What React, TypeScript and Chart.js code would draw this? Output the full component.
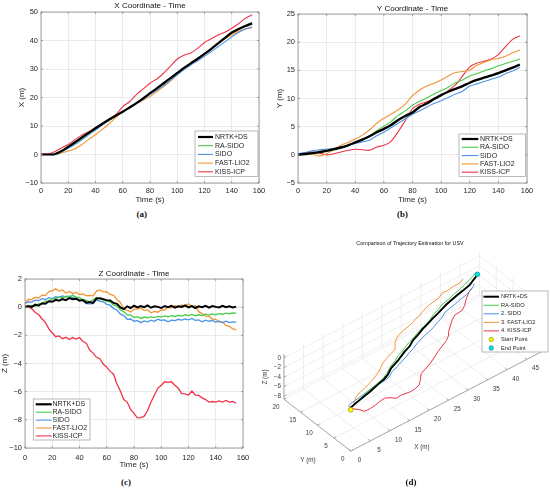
import React, { useRef, useEffect } from "react";
import Chart from "chart.js/auto";

const FONT = "'Liberation Sans', Arial, Helvetica, sans-serif";
const INK = "#262626";
const GRID = "#e2e2e2";
const FRAME = "#8a8a8a";

Chart.defaults.font.family = FONT;

// methods, in legend order
const methods = ["NRTK+DS", "RA-SIDO", "SIDO", "FAST-LIO2", "KISS-ICP"];
const methods3d = ["NRTK+DS", "RA-SIDO", "2. SIDO", "3. FAST-LIO2", "4. KISS-ICP"];
const colors = ["#000000", "#46cc46", "#4b93e6", "#f29534", "#ee3449"];

// time (s) for the X and Y coordinates
const timeXY = [0, 5, 10, 15, 20, 25, 30, 35, 40, 45, 50, 55, 60, 65, 70, 75, 80, 85, 90, 95, 100, 105, 110, 115, 120, 125, 130, 135, 140, 145, 150, 155];

// X coordinate (m)
const xNrtk = [0, 0, 0.1, 1.2, 2.7, 4.3, 6.0, 7.6, 9.2, 10.8, 12.3, 13.7, 15.0, 16.5, 18.0, 19.7, 21.5, 23.2, 25.0, 26.8, 28.6, 30.4, 32.0, 33.6, 35.3, 37.1, 39.0, 40.9, 42.8, 44.0, 45.1, 46.0];
const xRaSido = [0, 0, 0, 1.0, 2.5, 4.0, 5.6, 7.3, 9.0, 10.6, 12.1, 13.6, 15.0, 16.5, 18.0, 19.7, 21.5, 23.2, 25.0, 26.8, 28.7, 30.5, 32.1, 33.7, 35.4, 37.2, 39.0, 40.9, 42.6, 44.0, 45.3, 46.3];
const xSido = [0, 0, 0, 0.9, 2.2, 3.6, 5.2, 6.9, 8.6, 10.3, 12.0, 13.5, 15.0, 16.5, 17.9, 19.4, 21.0, 22.6, 24.2, 26.0, 28.0, 29.8, 31.4, 32.9, 34.5, 36.1, 37.8, 39.5, 41.3, 42.8, 44.0, 44.8];
const xFast = [0, 0, 0, 0.5, 1.2, 2.0, 3.5, 5.3, 7.0, 8.8, 10.8, 13.0, 15.0, 16.4, 17.8, 19.0, 20.3, 22.0, 23.8, 25.8, 28.0, 30.3, 32.3, 33.8, 35.4, 37.0, 38.8, 40.6, 42.0, 43.2, 44.0, 44.5];
const xKiss = [0.2, 0.2, 1.0, 2.3, 3.5, 5.2, 6.8, 8.0, 9.5, 10.8, 12.3, 14.0, 16.8, 18.5, 21.0, 23.0, 25.0, 26.5, 28.5, 31.0, 33.5, 34.8, 35.6, 37.3, 39.3, 40.6, 41.9, 42.9, 44.3, 45.9, 47.8, 49.0];

// Y coordinate (m)
const yNrtk = [0, 0.15, 0.3, 0.5, 0.7, 1.0, 1.3, 1.7, 2.2, 2.7, 3.3, 4.0, 4.6, 5.3, 6.2, 6.9, 7.5, 8.5, 9.1, 9.9, 10.6, 11.2, 11.7, 12.2, 12.8, 13.3, 13.7, 14.1, 14.5, 15.0, 15.5, 16.0];
const yRaSido = [0, 0.1, 0.2, 0.4, 0.6, 0.9, 1.3, 1.7, 2.2, 2.8, 3.4, 4.3, 5.1, 5.9, 7.0, 7.8, 8.8, 9.5, 10.1, 10.8, 11.4, 12.0, 12.8, 13.3, 14.0, 14.4, 14.9, 15.3, 15.8, 16.2, 16.6, 17.0];
const ySido = [0.2, 0.4, 0.7, 0.9, 1.0, 1.1, 1.4, 1.7, 2.0, 2.3, 2.6, 3.4, 4.0, 4.8, 5.6, 6.4, 7.2, 7.8, 8.5, 9.1, 9.6, 10.2, 10.8, 11.3, 12.2, 12.6, 13.0, 13.4, 13.8, 14.4, 14.9, 15.5];
const yFast = [0, 0.1, 0.1, -0.2, 0.2, 0.9, 1.7, 2.2, 2.8, 3.5, 4.4, 5.6, 6.5, 7.2, 8.0, 9.0, 10.5, 11.5, 12.2, 12.7, 13.3, 14.0, 14.6, 14.8, 15.0, 15.9, 16.4, 16.9, 17.1, 17.5, 18.1, 18.6];
const yKiss = [0, 0.4, 0.5, 0.3, 0.0, 0.2, 0.5, 0.8, 1.0, 0.9, 0.8, 1.4, 1.7, 2.4, 4.1, 6.1, 8.2, 9.0, 9.4, 10.0, 10.6, 11.4, 12.4, 14.0, 15.6, 16.3, 16.6, 17.0, 17.8, 19.2, 20.5, 21.1];

// time (s) for the Z coordinate
const timeZ = [
  0, 2.5, 5, 7.5, 10, 12.5, 15, 17.5, 20, 22.5,
  25, 27.5, 30, 32.5, 35, 37.5, 40, 42.5, 45, 47.5,
  50, 52.5, 55, 57.5, 60, 62.5, 65, 67.5, 70, 72.5,
  75, 77.5, 80, 82.5, 85, 87.5, 90, 92.5, 95, 97.5,
  100, 102.5, 105, 107.5, 110, 112.5, 115, 117.5, 120, 122.5,
  125, 127.5, 130, 132.5, 135, 137.5, 140, 142.5, 145, 147.5,
  150, 152.5, 155,
];

// Z coordinate (m)
const zNrtk = [
  0.00, 0.08, 0.02, 0.18, 0.10, 0.28, 0.24, 0.42, 0.38, 0.52,
  0.46, 0.58, 0.50, 0.64, 0.56, 0.60, 0.46, 0.50, 0.32, 0.36,
  0.30, 0.62, 0.64, 0.56, 0.50, 0.48, 0.30, 0.24, -0.02, -0.14,
  0.06, -0.06, 0.10, -0.02, 0.08, 0.00, 0.12, -0.04, 0.06, 0.02,
  -0.06, 0.08, 0.00, 0.10, -0.04, 0.06, 0.02, 0.12, -0.02, 0.08,
  -0.06, 0.06, 0.00, 0.10, -0.04, 0.08, 0.02, -0.02, 0.10, 0.00,
  0.06, -0.02, 0.04,
];
const zRaSido = [
  0.02, 0.00, 0.12, 0.06, 0.24, 0.22, 0.44, 0.40, 0.62, 0.58,
  0.74, 0.66, 0.78, 0.74, 0.84, 0.72, 0.68, 0.52, 0.48, 0.38,
  0.52, 0.68, 0.58, 0.54, 0.42, 0.38, 0.16, 0.08, -0.18, -0.32,
  -0.54, -0.56, -0.74, -0.68, -0.80, -0.70, -0.76, -0.68, -0.74, -0.66,
  -0.70, -0.62, -0.68, -0.60, -0.66, -0.58, -0.64, -0.54, -0.60, -0.52,
  -0.62, -0.54, -0.60, -0.50, -0.56, -0.48, -0.54, -0.46, -0.50, -0.42,
  -0.48, -0.40, -0.44,
];
const zSido = [
  0.26, 0.38, 0.36, 0.50, 0.46, 0.60, 0.54, 0.68, 0.60, 0.74,
  0.70, 0.80, 0.72, 0.78, 0.68, 0.66, 0.50, 0.48, 0.26, 0.24,
  0.26, 0.52, 0.42, 0.38, 0.20, 0.14, -0.10, -0.20, -0.50, -0.60,
  -0.86, -0.84, -1.00, -0.96, -1.10, -0.98, -1.04, -0.92, -1.00, -0.86,
  -0.94, -0.90, -1.04, -0.92, -0.96, -0.86, -0.92, -0.84, -0.90, -0.80,
  -0.94, -0.90, -1.04, -0.92, -1.00, -0.94, -1.06, -1.00, -1.10, -1.00,
  -1.10, -1.04, -1.08,
];
const zFast = [
  0.28, 0.56, 0.54, 0.70, 0.64, 0.86, 0.84, 1.10, 1.16, 1.30,
  1.14, 1.22, 1.00, 1.12, 0.96, 1.06, 0.90, 0.94, 0.80, 0.84,
  0.80, 1.14, 1.22, 1.08, 1.10, 0.90, 0.84, 0.54, 0.34, -0.14,
  -0.22, -0.34, -0.14, -0.14, -0.04, -0.24, -0.20, -0.40, -0.30, -0.36,
  -0.20, -0.20, 0.00, -0.06, 0.10, 0.00, 0.16, 0.08, 0.24, 0.06,
  0.10, -0.32, -0.46, -0.64, -0.66, -0.84, -0.86, -1.04, -1.06, -1.30,
  -1.36, -1.54, -1.60,
];
const zKiss = [
  0.10, 0.02, -0.12, -0.38, -0.52, -0.84, -1.08, -1.54, -1.82, -2.10,
  -2.04, -2.24, -2.14, -2.30, -2.16, -2.26, -2.16, -2.44, -2.56, -3.04,
  -3.26, -3.56, -3.66, -4.06, -4.26, -4.56, -4.76, -5.46, -5.96, -6.56,
  -6.74, -7.26, -7.54, -7.86, -7.84, -7.74, -7.34, -6.74, -6.24, -5.76,
  -5.54, -5.30, -5.34, -5.30, -5.54, -5.76, -6.14, -6.16, -6.24, -5.96,
  -6.24, -6.26, -6.44, -6.56, -6.74, -6.70, -6.74, -6.66, -6.74, -6.62,
  -6.74, -6.70, -6.82,
];

const xSeries = [xNrtk, xRaSido, xSido, xFast, xKiss];
const ySeries = [yNrtk, yRaSido, ySido, yFast, yKiss];
const zSeries = [zNrtk, zRaSido, zSido, zFast, zKiss];

// tick labels of the 3D view
const xTicks3d = [0, 5, 10, 15, 20, 25, 30, 35, 40, 45];
const yTicks3d = [0, 5, 10, 15, 20];
const zTicks3d = [-8, -6, -4, -2, 0];

const minus = (v: number) => (v < 0 ? "\u2212" + Math.abs(v) : String(v));

interface LegendItem {
  label: string;
  color: string;
  width?: number;
  edge?: string;
}

interface LegendBox {
  x: number;
  y: number;
  w: number;
  h: number;
  rowY: number;
  rowGap: number;
  lineX0: number;
  lineX1: number;
  textX: number;
  size: number;
  items: LegendItem[];
}

// legend drawn inside the axes, like MATLAB's
function makeLegend(o: LegendBox) {
  return {
    id: "boxLegend",
    afterDraw(chart: Chart) {
      const ctx = chart.ctx;
      ctx.save();
      ctx.fillStyle = "#ffffff";
      ctx.fillRect(o.x, o.y, o.w, o.h);
      ctx.strokeStyle = "#a8a8a8";
      ctx.lineWidth = 0.8;
      ctx.strokeRect(o.x, o.y, o.w, o.h);
      ctx.font = `${o.size}px ${FONT}`;
      ctx.textBaseline = "middle";
      ctx.textAlign = "left";
      o.items.forEach((it, i) => {
        const y = o.rowY + i * o.rowGap;
        if (it.edge) {
          ctx.beginPath();
          ctx.arc((o.lineX0 + o.lineX1) / 2, y, 2.2, 0, Math.PI * 2);
          ctx.fillStyle = it.color;
          ctx.fill();
          ctx.strokeStyle = it.edge;
          ctx.lineWidth = 0.6;
          ctx.stroke();
        } else {
          ctx.strokeStyle = it.color;
          ctx.lineWidth = it.width ?? 1;
          ctx.beginPath();
          ctx.moveTo(o.lineX0, y);
          ctx.lineTo(o.lineX1, y);
          ctx.stroke();
        }
        ctx.fillStyle = INK;
        ctx.fillText(it.label, o.textX, y);
      });
      ctx.restore();
    },
  };
}

// box round the axes with small inner ticks
const framePlugin = {
  id: "frame",
  afterDatasetsDraw(chart: Chart) {
    const { ctx, chartArea: a, scales } = chart;
    ctx.save();
    ctx.strokeStyle = FRAME;
    ctx.lineWidth = 0.8;
    ctx.beginPath();
    scales.x.ticks.forEach((t) => {
      const px = scales.x.getPixelForValue(t.value);
      ctx.moveTo(px, a.bottom);
      ctx.lineTo(px, a.bottom - 2);
      ctx.moveTo(px, a.top);
      ctx.lineTo(px, a.top + 2);
    });
    scales.y.ticks.forEach((t) => {
      const py = scales.y.getPixelForValue(t.value);
      ctx.moveTo(a.left, py);
      ctx.lineTo(a.left + 2, py);
      ctx.moveTo(a.right, py);
      ctx.lineTo(a.right - 2, py);
    });
    ctx.stroke();
    ctx.strokeRect(a.left, a.top, a.right - a.left, a.bottom - a.top);
    ctx.restore();
  },
};

interface LinePanelProps {
  left: number;
  top: number;
  width: number;
  height: number;
  padLeft: number;
  padRight: number;
  title: string;
  titleTop: number;
  titleBottom: number;
  yLabel: string;
  yMin: number;
  yMax: number;
  yStep: number;
  yAxisWidth: number;
  xAxisHeight: number;
  xTickPad: number;
  xTitlePad: number;
  times: number[];
  series: number[][];
  blackWidth: number;
  lineWidth: number;
  tension: number;
  legend: Omit<LegendBox, "items" | "size">;
}

const LinePanel: React.FC<LinePanelProps> = (p) => {
  const ref = useRef<HTMLCanvasElement>(null);

  useEffect(() => {
    if (!ref.current) return;
    const chart = new Chart(ref.current, {
      type: "scatter",
      data: {
        datasets: p.series.map((s, i) => ({
          label: methods[i],
          data: s.map((v, k) => ({ x: p.times[k], y: v })),
          showLine: true,
          borderColor: colors[i],
          backgroundColor: colors[i],
          borderWidth: i === 0 ? p.blackWidth : p.lineWidth,
          pointRadius: 0,
          tension: p.tension,
        })),
      },
      options: {
        responsive: false,
        animation: false,
        layout: { padding: { left: p.padLeft, right: p.padRight, top: 0, bottom: 0 } },
        plugins: {
          legend: { display: false },
          tooltip: { enabled: false },
          title: {
            display: true,
            fullSize: false,
            text: p.title,
            color: "#111",
            font: { size: 8, weight: "normal" },
            padding: { top: p.titleTop, bottom: p.titleBottom },
          },
        },
        scales: {
          x: {
            type: "linear",
            min: 0,
            max: 160,
            border: { display: false },
            grid: { color: GRID, lineWidth: 0.7, drawTicks: false },
            ticks: { stepSize: 20, padding: p.xTickPad, color: INK, font: { size: 7.5 }, autoSkip: false, maxRotation: 0 },
            title: { display: true, text: "Time (s)", color: INK, font: { size: 8 }, padding: { top: 0, bottom: p.xTitlePad } },
            afterFit: (s: any) => {
              s.height = p.xAxisHeight;
              s.paddingLeft = 0;
              s.paddingRight = 0;
            },
          },
          y: {
            type: "linear",
            min: p.yMin,
            max: p.yMax,
            border: { display: false },
            grid: { color: GRID, lineWidth: 0.7, drawTicks: false },
            ticks: { stepSize: p.yStep, padding: 3, color: INK, font: { size: 7.5 }, callback: (v: any) => minus(Number(v)) },
            title: { display: true, text: p.yLabel, color: INK, font: { size: 8 }, padding: { top: 0, bottom: 0 } },
            afterFit: (s: any) => {
              s.width = p.yAxisWidth;
              s.paddingTop = 0;
              s.paddingBottom = 0;
            },
          },
        },
      },
      plugins: [
        framePlugin,
        makeLegend({
          ...p.legend,
          size: 7,
          items: methods.map((m, i) => ({ label: m, color: colors[i], width: i === 0 ? 2.2 : 1.1 })),
        }),
      ],
    });
    return () => chart.destroy();
  }, []);

  return (
    <canvas
      ref={ref}
      width={p.width}
      height={p.height}
      style={{ position: "absolute", left: p.left, top: p.top, width: p.width, height: p.height }}
    />
  );
};

// oblique view used for the trajectory plot (canvas pixels)
const view = {
  ox: 89,
  oy: 217,
  ex: [4.04, -2.12],
  ey: [-3.45, -2.7],
  ez: 5.0,
  xMax: 50,
  yMax: 20,
  zMin: -8.6,
  zMax: 0.8,
};

const project = (X: number, Y: number, Z: number) => ({
  x: view.ox + X * view.ex[0] + Y * view.ey[0],
  y: view.oy + X * view.ex[1] + Y * view.ey[1] - (Z - view.zMin) * view.ez,
});

const W3 = 290;
const H3 = 234;

const axes3dPlugin = {
  id: "axes3d",
  beforeDatasetsDraw(chart: Chart) {
    const { ctx, scales } = chart;
    const px = (pt: { x: number; y: number }) => [scales.x.getPixelForValue(pt.x), scales.y.getPixelForValue(pt.y)];
    const seg = (a: { x: number; y: number }, b: { x: number; y: number }) => {
      const [x0, y0] = px(a);
      const [x1, y1] = px(b);
      ctx.moveTo(x0, y0);
      ctx.lineTo(x1, y1);
    };
    const { xMax, yMax, zMin, zMax } = view;
    ctx.save();
    // grid on floor and back walls
    ctx.strokeStyle = "#e6e6e6";
    ctx.lineWidth = 0.7;
    ctx.beginPath();
    xTicks3d.forEach((X) => {
      seg(project(X, 0, zMin), project(X, yMax, zMin));
      seg(project(X, yMax, zMin), project(X, yMax, zMax));
    });
    yTicks3d.forEach((Y) => {
      seg(project(0, Y, zMin), project(xMax, Y, zMin));
      seg(project(xMax, Y, zMin), project(xMax, Y, zMax));
    });
    zTicks3d.forEach((Z) => {
      seg(project(0, yMax, Z), project(xMax, yMax, Z));
      seg(project(xMax, 0, Z), project(xMax, yMax, Z));
    });
    ctx.stroke();
    // axis lines and ticks
    ctx.strokeStyle = "#959595";
    ctx.lineWidth = 0.8;
    ctx.beginPath();
    seg(project(0, 0, zMin), project(xMax, 0, zMin));
    seg(project(0, 0, zMin), project(0, yMax, zMin));
    seg(project(0, yMax, zMin), project(0, yMax, zMax));
    xTicks3d.forEach((X) => seg(project(X, 0, zMin), project(X, 0.6, zMin)));
    yTicks3d.forEach((Y) => seg(project(0, Y, zMin), project(0.6, Y, zMin)));
    zTicks3d.forEach((Z) => seg(project(0, yMax, Z), project(0.6, yMax, Z)));
    ctx.stroke();
    ctx.restore();
  },
  afterDatasetsDraw(chart: Chart) {
    const { ctx, scales } = chart;
    const px = (pt: { x: number; y: number }) => [scales.x.getPixelForValue(pt.x), scales.y.getPixelForValue(pt.y)];
    const { yMax, zMin } = view;
    ctx.save();
    ctx.fillStyle = "#3a3a3a";
    ctx.font = `6.3px ${FONT}`;
    ctx.textBaseline = "middle";
    ctx.textAlign = "center";
    xTicks3d.forEach((X) => {
      const [x, y] = px(project(X, 0, zMin));
      ctx.fillText(String(X), x + 8.6, y + 9.3);
    });
    yTicks3d.forEach((Y) => {
      const [x, y] = px(project(0, Y, zMin));
      ctx.fillText(String(Y), x - 8, y + 8);
    });
    ctx.textAlign = "right";
    zTicks3d.forEach((Z) => {
      const [x, y] = px(project(0, yMax, Z));
      ctx.fillText(minus(Z), x - 3, y);
    });
    ctx.textAlign = "center";
    ctx.fillText("X (m)", 162, 209);
    ctx.fillText("Y (m)", 48, 222);
    ctx.save();
    ctx.translate(5, 139);
    ctx.rotate(-Math.PI / 2);
    ctx.fillText("Z (m)", 0, 0);
    ctx.restore();
    ctx.fillStyle = "#111";
    ctx.font = `5.4px ${FONT}`;
    ctx.fillText("Comparison of Trajectory Estimation for USV", 150, 6);
    ctx.restore();
  },
};

const Trajectory3D: React.FC<{ left: number; top: number }> = ({ left, top }) => {
  const ref = useRef<HTMLCanvasElement>(null);

  useEffect(() => {
    if (!ref.current) return;
    const paths = xSeries.map((X, m) =>
      timeXY.map((_, k) => project(X[k], ySeries[m][k], zSeries[m][2 * k]))
    );
    const last = timeXY.length - 1;
    const start = project(xNrtk[0], yNrtk[0], zNrtk[0]);
    const end = project(xNrtk[last], yNrtk[last], zNrtk[2 * last]);

    const chart = new Chart(ref.current, {
      type: "scatter",
      data: {
        datasets: [
          ...paths.map((pts, i) => ({
            label: methods3d[i],
            data: pts,
            showLine: true,
            borderColor: colors[i],
            backgroundColor: colors[i],
            borderWidth: i === 0 ? 1.9 : 1.0,
            pointRadius: 0,
            tension: 0,
          })),
          {
            label: "Start Point",
            data: [start],
            pointRadius: 2.4,
            backgroundColor: "#ffff00",
            borderColor: "#7a7a00",
            borderWidth: 0.6,
            order: -1,
          },
          {
            label: "End Point",
            data: [end],
            pointRadius: 2.4,
            backgroundColor: "#00e8ee",
            borderColor: "#00707a",
            borderWidth: 0.6,
            order: -1,
          },
        ],
      },
      options: {
        responsive: false,
        animation: false,
        layout: { padding: 0 },
        plugins: { legend: { display: false }, tooltip: { enabled: false }, title: { display: false } },
        scales: {
          x: { type: "linear", min: 0, max: W3, display: false },
          y: { type: "linear", min: 0, max: H3, reverse: true, display: false },
        },
      },
      plugins: [
        axes3dPlugin,
        makeLegend({
          x: 222,
          y: 53,
          w: 66,
          h: 61,
          rowY: 58.7,
          rowGap: 8.55,
          lineX0: 223.5,
          lineX1: 239,
          textX: 241,
          size: 5.7,
          items: [
            ...methods3d.map((m, i) => ({ label: m, color: colors[i], width: i === 0 ? 2 : 1 })),
            { label: "Start Point", color: "#ffff00", edge: "#7a7a00" },
            { label: "End Point", color: "#00e8ee", edge: "#00707a" },
          ],
        }),
      ],
    });
    return () => chart.destroy();
  }, []);

  return (
    <canvas
      ref={ref}
      width={W3}
      height={H3}
      style={{ position: "absolute", left, top, width: W3, height: H3 }}
    />
  );
};

const tagStyle = (x: number, y: number): React.CSSProperties => ({
  position: "absolute",
  left: x,
  top: y,
  transform: "translate(-50%, -50%)",
  font: "bold 9px 'Liberation Serif', 'Times New Roman', serif",
  color: "#111",
  whiteSpace: "nowrap",
});

export default function App() {
  return (
    <div style={{ position: "absolute", left: 0, top: 0, width: 550, height: 489, background: "#fff", overflow: "hidden" }}>
      <LinePanel
        left={0}
        top={0}
        width={270}
        height={208}
        padLeft={17.2}
        padRight={11}
        title="X Coordinate - Time"
        titleTop={1.2}
        titleBottom={1.2}
        yLabel="X (m)"
        yMin={-10}
        yMax={50}
        yStep={10}
        yAxisWidth={23.8}
        xAxisHeight={25}
        xTickPad={3.5}
        xTitlePad={3.2}
        times={timeXY}
        series={xSeries}
        blackWidth={2.2}
        lineWidth={1.1}
        tension={0.25}
        legend={{ x: 195, y: 131, w: 63, h: 45.5, rowY: 137, rowGap: 8.7, lineX0: 198, lineX1: 213, textX: 215 }}
      />
      <LinePanel
        left={275}
        top={0}
        width={275}
        height={208}
        padLeft={0}
        padRight={23}
        title="Y Coordinate - Time"
        titleTop={4.2}
        titleBottom={0.2}
        yLabel="Y (m)"
        yMin={-5}
        yMax={25}
        yStep={5}
        yAxisWidth={23}
        xAxisHeight={25}
        xTickPad={3.5}
        xTitlePad={3.2}
        times={timeXY}
        series={ySeries}
        blackWidth={2.4}
        lineWidth={1.1}
        tension={0.25}
        legend={{ x: 184, y: 134, w: 66.5, h: 42.5, rowY: 139, rowGap: 8.3, lineX0: 186.7, lineX1: 203.3, textX: 205 }}
      />
      <LinePanel
        left={0}
        top={260}
        width={270}
        height={212}
        padLeft={0.2}
        padRight={27}
        title="Z Coordinate - Time"
        titleTop={9.2}
        titleBottom={0.2}
        yLabel="Z (m)"
        yMin={-10}
        yMax={2}
        yStep={2}
        yAxisWidth={24.8}
        xAxisHeight={24}
        xTickPad={5.2}
        xTitlePad={2.2}
        times={timeZ}
        series={zSeries}
        blackWidth={2}
        lineWidth={1.3}
        tension={0}
        legend={{ x: 33.3, y: 139, w: 56.7, h: 41, rowY: 144.3, rowGap: 7.9, lineX0: 35.7, lineX1: 51.7, textX: 52.5 }}
      />
      <Trajectory3D left={260} top={238} />
      <div style={tagStyle(141.7, 214)}>(a)</div>
      <div style={tagStyle(402.5, 214)}>(b)</div>
      <div style={tagStyle(126, 482)}>(c)</div>
      <div style={tagStyle(411, 482)}>(d)</div>
    </div>
  );
}
